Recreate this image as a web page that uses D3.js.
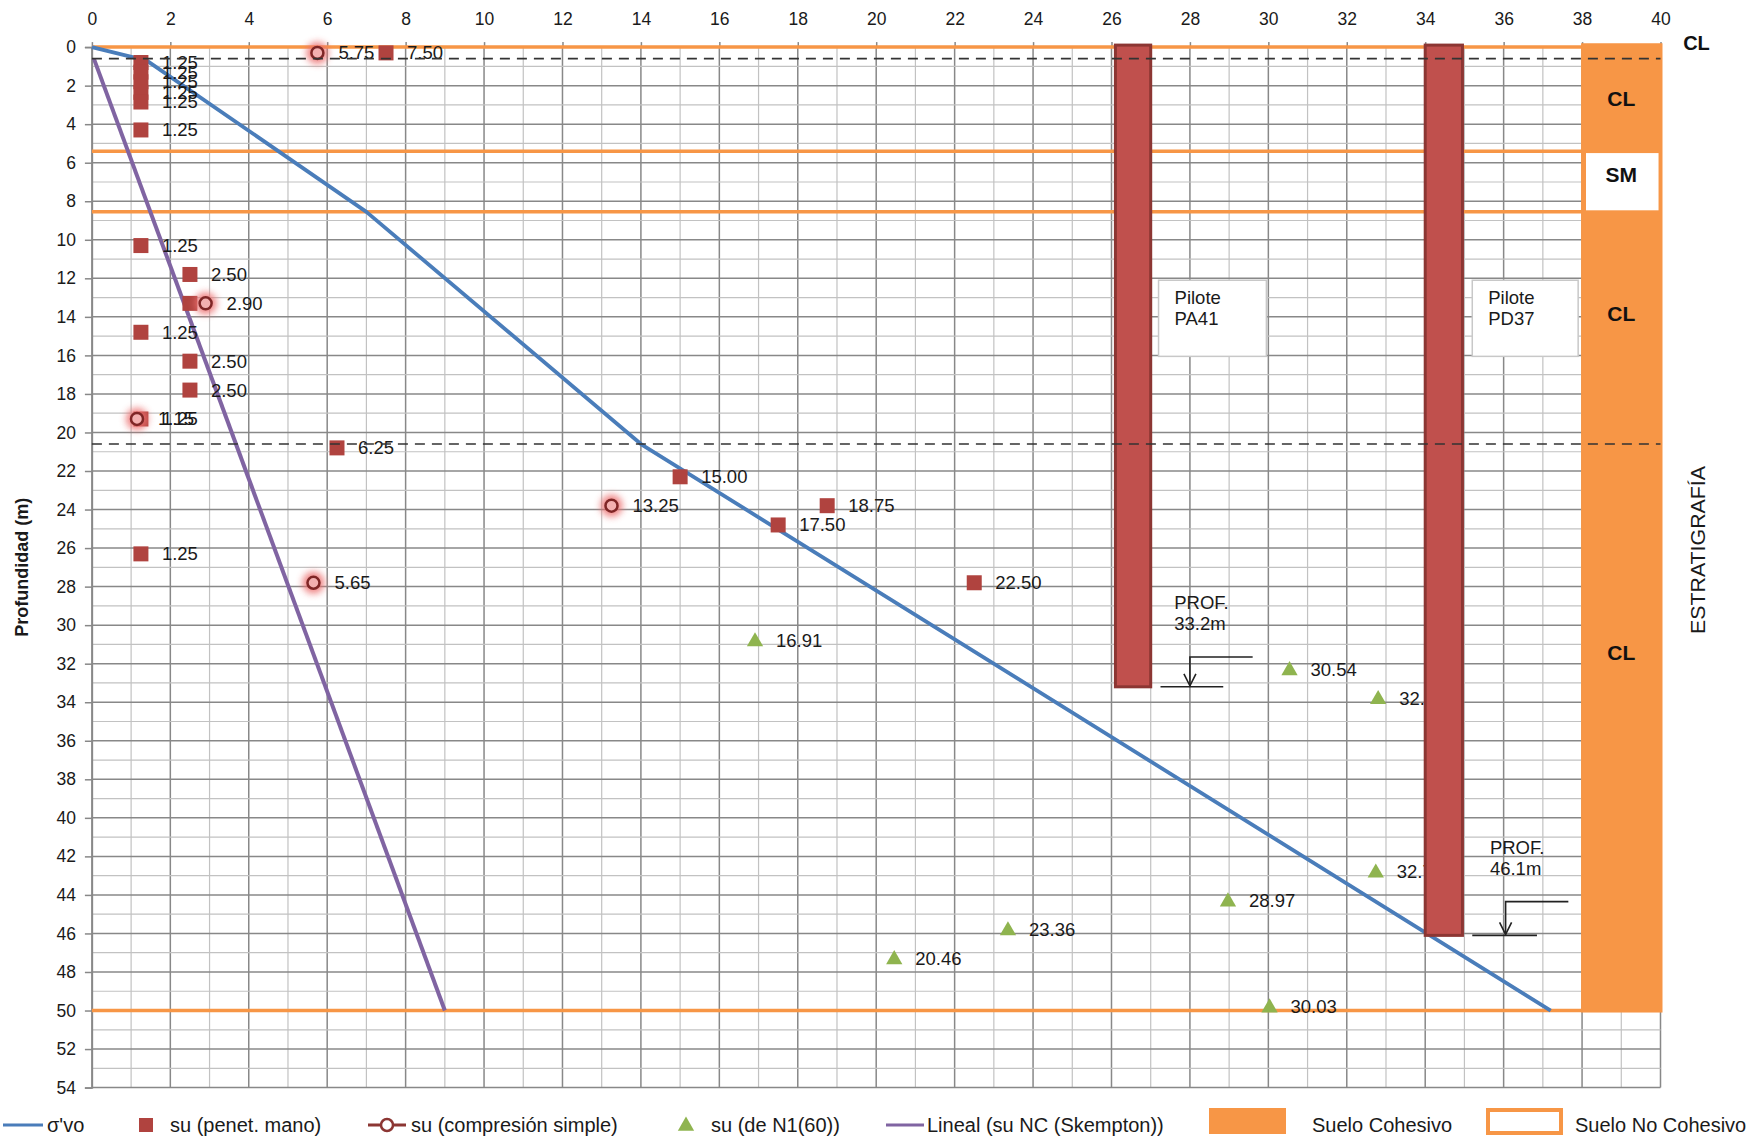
<!DOCTYPE html>
<html>
<head>
<meta charset="utf-8">
<script src="https://cdn.jsdelivr.net/npm/d3@7"></script>
<style>
  body { margin: 0; background: #fff; }
  svg { font-family: "Liberation Sans", Arial, sans-serif; }
</style>
</head>
<body>
<svg id="chart" width="1758" height="1138"></svg>
<script>
// ---- data ----
const xTicks = d3.range(0, 41, 2);
const yTicks = d3.range(0, 55, 2);

// sigma'vo (x = esfuerzo, z = profundidad)
const sigmaVo = [[0, 0], [1.4, 0.7], [7.0, 8.55], [14.0, 20.6], [37.2, 50.0]];
// Lineal su NC (Skempton)
const skempton = [[0.05, 0.6], [9.0, 50.0]];

// su (penet. mano)
const penetMano = [
  { su: 1.25, z: 0.8 }, { su: 1.25, z: 1.3 }, { su: 1.25, z: 1.8 }, { su: 1.25, z: 2.35 },
  { su: 1.25, z: 2.85 }, { su: 1.25, z: 4.3 }, { su: 7.50, z: 0.3 }, { su: 1.25, z: 10.3 },
  { su: 2.50, z: 11.8 }, { su: 2.50, z: 13.3, hide: true }, { su: 1.25, z: 14.8 },
  { su: 2.50, z: 16.3 }, { su: 2.50, z: 17.8 }, { su: 1.25, z: 19.3 }, { su: 6.25, z: 20.8 },
  { su: 15.00, z: 22.3 }, { su: 18.75, z: 23.8 }, { su: 17.50, z: 24.8 }, { su: 1.25, z: 26.3 },
  { su: 22.50, z: 27.8 }
];
// su (compresión simple)
const compSimple = [
  { su: 5.75, z: 0.3 }, { su: 2.90, z: 13.3 }, { su: 1.15, z: 19.3 },
  { su: 13.25, z: 23.8 }, { su: 5.65, z: 27.8 }
];
// su (de N1(60))
const n160 = [
  { su: 16.91, z: 30.8 }, { su: 30.54, z: 32.3 }, { su: 32.80, z: 33.8 }, { su: 32.74, z: 42.8 },
  { su: 28.97, z: 44.3 }, { su: 23.36, z: 45.8 }, { su: 20.46, z: 47.3 }, { su: 30.03, z: 49.8 }
];

// pilotes
const piles = [
  { name: "PA41", x0: 26.1, x1: 27.0, depth: 33.2, boxX: [27.2, 29.95], boxZ: [12.1, 16.05],
    profX: 27.6, profZ: 28.8, arrowX: 28.0, arrowTop: 31.65, baseX: [27.25, 28.85] },
  { name: "PD37", x0: 34.0, x1: 34.95, depth: 46.1, boxX: [35.2, 37.9], boxZ: [12.1, 16.05],
    profX: 35.65, profZ: 41.55, arrowX: 36.05, arrowTop: 44.35, baseX: [35.2, 36.85] }
];

// estratigrafía
const strata = [
  { top: 0, bot: 5.4, name: "CL", cohesive: true, labelZ: 2.7 },
  { top: 5.4, bot: 8.55, name: "SM", cohesive: false, labelZ: 6.6 },
  { top: 8.55, bot: 20.6, name: "CL", cohesive: true, labelZ: 13.85 },
  { top: 20.6, bot: 50, name: "CL", cohesive: true, labelZ: 31.45 }
];
const boundaries = [0, 5.4, 8.55, 50];
const waterLines = [0.6, 20.6];

// ---- chart ----
const svg = d3.select("#chart");
const x = d3.scaleLinear().domain([0, 40]).range([91.9, 1660.5]);
const y = d3.scaleLinear().domain([0, 54]).range([47.1, 1087.6]);

const ORANGE = "#f79646", BLUE = "#4a7dba", PURPLE = "#8064a2", RED = "#b0433f",
      GREEN = "#8fb44f", TXT = "#1a1a1a";

const defs = svg.append("defs");
defs.append("filter").attr("id", "glow").attr("x", "-1").attr("y", "-1")
  .attr("width", "3").attr("height", "3")
  .append("feGaussianBlur").attr("stdDeviation", 3.5);

// grid
const grid = svg.append("g");
d3.range(0, 41).forEach(i => {
  grid.append("line").attr("x1", x(i)).attr("x2", x(i)).attr("y1", y(0)).attr("y2", y(54))
    .attr("stroke", i % 2 === 0 ? "#888" : "#c2c2c2").attr("stroke-width", i % 2 === 0 ? 1.5 : 1.2);
});
d3.range(0, 55).forEach(j => {
  grid.append("line").attr("x1", x(0)).attr("x2", x(40)).attr("y1", y(j)).attr("y2", y(j))
    .attr("stroke", j % 2 === 0 ? "#888" : "#c2c2c2").attr("stroke-width", j % 2 === 0 ? 1.5 : 1.2);
});

// axes
const xAxis = svg.append("g").attr("transform", `translate(0,${y(0)})`)
  .call(d3.axisTop(x).tickValues(xTicks).tickSize(5).tickPadding(17));
const yAxis = svg.append("g").attr("transform", `translate(${x(0)},0)`)
  .call(d3.axisLeft(y).tickValues(yTicks).tickSize(7).tickPadding(9));
[xAxis, yAxis].forEach(a => {
  a.selectAll("text").attr("font-size", 17.5).attr("fill", TXT)
    .attr("font-family", "Liberation Sans, Arial, sans-serif");
  a.selectAll("line").attr("stroke", "#888").attr("stroke-width", 1.5);
  a.select(".domain").attr("stroke", "#888").attr("stroke-width", 1.5);
});
xAxis.select(".domain").remove();

svg.append("text")
  .attr("transform", `translate(28,${(y(0) + y(54)) / 2}) rotate(-90)`)
  .attr("text-anchor", "middle").attr("font-size", 18).attr("font-weight", 700)
  .attr("fill", TXT).text("Profundidad (m)");

// orange boundaries
boundaries.forEach(b => {
  svg.append("line").attr("x1", x(0)).attr("x2", x(38)).attr("y1", y(b)).attr("y2", y(b))
    .attr("stroke", ORANGE).attr("stroke-width", 3.5);
});

// stratigraphy column
svg.append("rect").attr("x", x(38) - 1).attr("y", y(-0.2)).attr("width", x(40) - x(38) + 3)
  .attr("height", y(50) - y(-0.2) + 2).attr("fill", ORANGE);
strata.filter(s => !s.cohesive).forEach(s => {
  svg.append("rect").attr("x", x(38.1)).attr("y", y(s.top + 0.1)).attr("width", x(39.95) - x(38.1))
    .attr("height", y(s.bot - 0.08) - y(s.top + 0.1)).attr("fill", "#fff");
});

// lines
const line = d3.line().x(d => x(d[0])).y(d => y(d[1]));
svg.append("path").datum(skempton).attr("d", line).attr("fill", "none")
  .attr("stroke", PURPLE).attr("stroke-width", 4);
svg.append("path").datum(sigmaVo).attr("d", line).attr("fill", "none")
  .attr("stroke", BLUE).attr("stroke-width", 3.8).attr("stroke-linejoin", "round");

// markers
const marks = svg.append("g");
const labels = svg.append("g").attr("font-size", 18.5).attr("fill", TXT);
const fmt = d3.format(".2f");

penetMano.forEach(d => {
  marks.append("rect").attr("x", x(d.su) - 7.5).attr("y", y(d.z) - 7.5)
    .attr("width", 15).attr("height", 15).attr("fill", RED);
});
compSimple.forEach(d => {
  marks.append("circle").attr("cx", x(d.su)).attr("cy", y(d.z)).attr("r", 11)
    .attr("fill", "#ec7070").attr("opacity", 0.85).attr("filter", "url(#glow)");
  marks.append("circle").attr("cx", x(d.su)).attr("cy", y(d.z)).attr("r", 6)
    .attr("fill", "#f3b0b0").attr("stroke", "#7f2626").attr("stroke-width", 2.5);
});
const tri = d3.symbol().type(d3.symbolTriangle).size(115);
n160.forEach(d => {
  marks.append("path").attr("d", tri).attr("transform", `translate(${x(d.su)},${y(d.z) + 1})`)
    .attr("fill", GREEN);
});

[...penetMano.filter(d => !d.hide), ...compSimple, ...n160].forEach(d => {
  labels.append("text").attr("x", x(d.su) + 21).attr("y", y(d.z))
    .attr("dy", "0.35em").text(fmt(d.su));
});

// piles
piles.forEach(p => {
  svg.append("rect").attr("x", x(p.x0)).attr("y", y(0) - 2)
    .attr("width", x(p.x1) - x(p.x0)).attr("height", y(p.depth) - y(0) + 2)
    .attr("fill", "#c0504d").attr("stroke", "#8c3633").attr("stroke-width", 3);
});

// water table lines
waterLines.forEach(w => {
  svg.append("line").attr("x1", x(0)).attr("x2", x(40)).attr("y1", y(w)).attr("y2", y(w))
    .attr("stroke", "#333").attr("stroke-width", 1.6).attr("stroke-dasharray", "10,7");
});

// pile annotations
piles.forEach(p => {
  svg.append("rect").attr("x", x(p.boxX[0])).attr("y", y(p.boxZ[0]))
    .attr("width", x(p.boxX[1]) - x(p.boxX[0])).attr("height", y(p.boxZ[1]) - y(p.boxZ[0]))
    .attr("fill", "#fff").attr("stroke", "#c8c8c8").attr("stroke-width", 1.5);
  const t = svg.append("text").attr("font-size", 18.5).attr("fill", TXT);
  t.append("tspan").attr("x", x(p.boxX[0]) + 16).attr("y", y(p.boxZ[0]) + 24).text("Pilote");
  t.append("tspan").attr("x", x(p.boxX[0]) + 16).attr("y", y(p.boxZ[0]) + 45).text(p.name);

  const q = svg.append("text").attr("font-size", 18.5).attr("fill", TXT);
  q.append("tspan").attr("x", x(p.profX)).attr("y", y(p.profZ)).attr("dy", "0.35em").text("PROF.");
  q.append("tspan").attr("x", x(p.profX)).attr("y", y(p.profZ) + 21).attr("dy", "0.35em")
    .text(d3.format(".1f")(p.depth) + "m");

  const ax = x(p.arrowX), at = y(p.arrowTop), ab = y(p.depth) - 1;
  const g = svg.append("g").attr("stroke", "#222").attr("stroke-width", 1.6).attr("fill", "none");
  g.append("path").attr("d", `M${x(p.arrowX + 1.6)},${at}H${ax}V${ab}`);
  g.append("path").attr("d", `M${ax - 6},${ab - 12}L${ax},${ab}L${ax + 6},${ab - 12}`);
  g.append("line").attr("x1", x(p.baseX[0])).attr("x2", x(p.baseX[1]))
    .attr("y1", ab + 1).attr("y2", ab + 1);
});

// strata labels
strata.forEach(s => {
  svg.append("text").attr("x", x(39)).attr("y", y(s.labelZ)).attr("dy", "0.35em")
    .attr("text-anchor", "middle").attr("font-size", 21).attr("font-weight", 700)
    .attr("fill", "#111").text(s.name);
});
svg.append("text").attr("x", x(40) + 36).attr("y", y(-0.2)).attr("dy", "0.35em")
  .attr("text-anchor", "middle").attr("font-size", 20).attr("font-weight", 700)
  .attr("fill", "#111").text("CL");
svg.append("text")
  .attr("transform", `translate(1705,${y(26.1)}) rotate(-90)`)
  .attr("text-anchor", "middle").attr("font-size", 21).attr("fill", TXT)
  .attr("textLength", 168).attr("lengthAdjust", "spacingAndGlyphs")
  .text("ESTRATIGRAFÍA");

// legend
const lg = svg.append("g").attr("font-size", 20).attr("fill", TXT);
const ly = 1125;
lg.append("line").attr("x1", 3).attr("x2", 43).attr("y1", ly).attr("y2", ly)
  .attr("stroke", BLUE).attr("stroke-width", 3);
lg.append("text").attr("x", 47).attr("y", ly).attr("dy", "0.35em").text("σ'vo");
lg.append("rect").attr("x", 139).attr("y", ly - 7).attr("width", 14).attr("height", 14).attr("fill", RED);
lg.append("text").attr("x", 170).attr("y", ly).attr("dy", "0.35em").text("su (penet. mano)");
lg.append("line").attr("x1", 368).attr("x2", 406).attr("y1", ly).attr("y2", ly)
  .attr("stroke", "#8c3633").attr("stroke-width", 3);
lg.append("circle").attr("cx", 387).attr("cy", ly).attr("r", 6).attr("fill", "#fff")
  .attr("stroke", "#8c3633").attr("stroke-width", 2.5);
lg.append("text").attr("x", 411).attr("y", ly).attr("dy", "0.35em").text("su (compresión simple)");
lg.append("path").attr("d", tri).attr("transform", `translate(686,${ly + 1})`).attr("fill", GREEN);
lg.append("text").attr("x", 711).attr("y", ly).attr("dy", "0.35em").text("su (de N1(60))");
lg.append("line").attr("x1", 886).attr("x2", 924).attr("y1", ly).attr("y2", ly)
  .attr("stroke", PURPLE).attr("stroke-width", 3);
lg.append("text").attr("x", 927).attr("y", ly).attr("dy", "0.35em").text("Lineal (su NC (Skempton))");
lg.append("rect").attr("x", 1209).attr("y", 1108).attr("width", 77).attr("height", 26).attr("fill", ORANGE);
lg.append("text").attr("x", 1312).attr("y", ly).attr("dy", "0.35em").text("Suelo Cohesivo");
lg.append("rect").attr("x", 1488).attr("y", 1110).attr("width", 73).attr("height", 23)
  .attr("fill", "#fff").attr("stroke", ORANGE).attr("stroke-width", 4);
lg.append("text").attr("x", 1575).attr("y", ly).attr("dy", "0.35em").text("Suelo No Cohesivo");
</script>
</body>
</html>
